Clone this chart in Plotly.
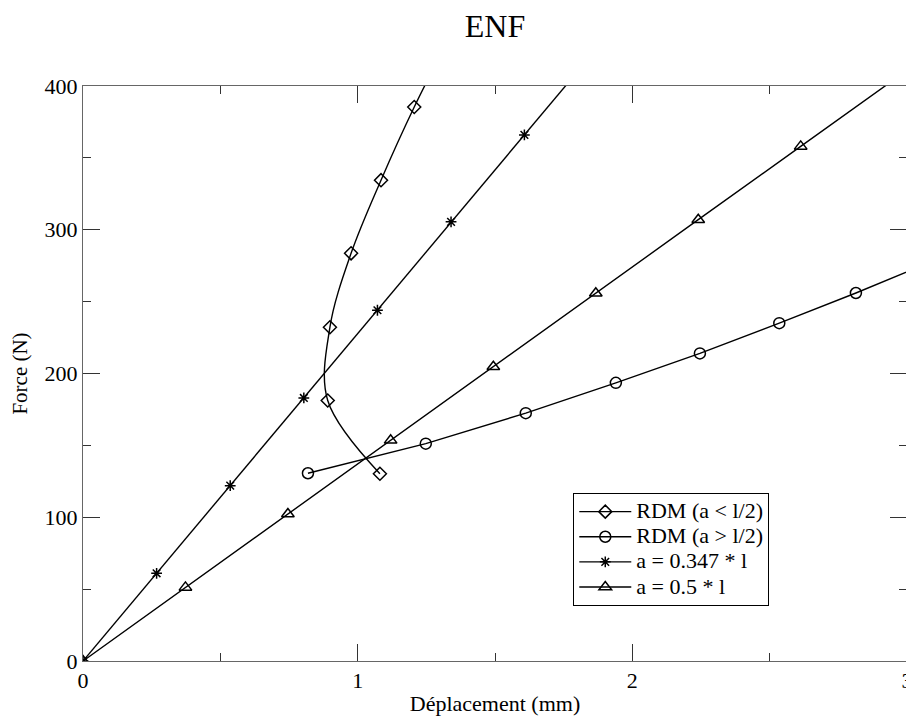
import plotly.graph_objects as go

# RDM (a < l/2)
rdm_low_x = [1.081, 0.891, 0.899, 0.976, 1.085, 1.206, 1.340]
rdm_low_y = [130.3, 181.2, 232.2, 283.6, 334.5, 385.4, 436.0]
# RDM (a > l/2)
rdm_high_x = [0.819, 1.248, 1.612, 1.940, 2.246, 2.535, 2.814, 3.080]
rdm_high_y = [130.6, 151.2, 172.4, 193.5, 214.0, 235.0, 256.0, 277.0]
# a = 0.347 * l
a347_x = [0.0, 0.268, 0.536, 0.804, 1.072, 1.340, 1.607, 1.875]
a347_y = [0.0, 61.0, 122.0, 183.0, 244.0, 305.5, 366.0, 427.0]
# a = 0.5 * l
a05_x = [0.0, 0.373, 0.746, 1.120, 1.494, 1.867, 2.240, 2.613, 2.986]
a05_y = [0.0, 51.2, 102.3, 153.5, 204.7, 255.8, 307.0, 358.0, 409.0]

names = ["RDM (a < l/2)", "RDM (a > l/2)", "a = 0.347 * l", "a = 0.5 * l"]

FONT = "Liberation Serif, Times New Roman, serif"
line_style = dict(color="black", width=1.4)


def leg(name):
    return '<span style="font-size:22px">' + name.replace("<", "&lt;").replace(">", "&gt;") + "</span>"


fig = go.Figure()
fig.add_trace(go.Scatter(
    x=rdm_low_x, y=rdm_low_y, mode="lines+markers", name=leg(names[0]),
    line=dict(color="black", width=1.4, shape="spline", smoothing=1.0),
    marker=dict(symbol="diamond-open", size=10, color="black", line=dict(width=1.5))))
fig.add_trace(go.Scatter(
    x=rdm_high_x, y=rdm_high_y, mode="lines+markers", name=leg(names[1]),
    line=line_style,
    marker=dict(symbol="circle-open", size=11, color="black", line=dict(width=1.5))))
fig.add_trace(go.Scatter(
    x=a347_x, y=a347_y, mode="lines+markers", name=leg(names[2]),
    line=line_style,
    marker=dict(symbol="asterisk-open", size=9, color="black", line=dict(width=1.5, color="black"))))
fig.add_trace(go.Scatter(
    x=a05_x, y=a05_y, mode="lines+markers", name=leg(names[3]),
    line=line_style,
    marker=dict(symbol="triangle-up-open", size=11, color="black", line=dict(width=1.5))))

axis_common = dict(
    showgrid=False, zeroline=False, showline=True, linecolor="#666", linewidth=1,
    mirror="ticks", ticks="inside", ticklen=17, tickcolor="#333", tickwidth=1,
    minor=dict(ticks="inside", ticklen=8, tickcolor="#333", tickwidth=1),
    tickfont=dict(family=FONT, size=22, color="black"),
    automargin=False,
)

fig.update_xaxes(range=[0, 3], dtick=1, tick0=0, minor_dtick=0.5,
                 title=dict(text="Déplacement (mm)", font=dict(family=FONT, size=22, color="black"), standoff=3),
                 **axis_common)
fig.update_yaxes(range=[0, 400], dtick=100, tick0=0, minor_dtick=50,
                 title=dict(text="Force (N)", font=dict(family=FONT, size=21, color="black"), standoff=14),
                 **axis_common)

# page body has an 8px margin, so the figure is offset by 8px
fig.update_layout(
    width=906, height=708,
    margin=dict(l=75, r=7, t=78, b=55),
    paper_bgcolor="white", plot_bgcolor="white",
    title=dict(text="ENF", xref="paper", x=0.5, xanchor="center", y=0.991, yanchor="top",
               font=dict(family=FONT, size=32, color="black")),
    showlegend=True,
    legend=dict(x=0.595, y=0.292, xanchor="left", yanchor="top",
                bgcolor="white", bordercolor="black", borderwidth=1,
                font=dict(family=FONT, size=17, color="black"),
                tracegroupgap=0, itemwidth=52),
)

fig.write_html("out.html")
